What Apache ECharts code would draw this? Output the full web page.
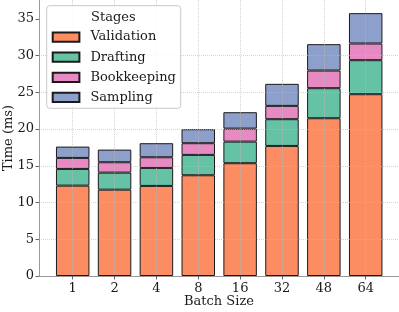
<!DOCTYPE html>
<html>
<head>
<meta charset="utf-8">
<script src="https://cdn.jsdelivr.net/npm/echarts@6/dist/echarts.min.js"></script>
<style>
html,body{margin:0;padding:0;background:#fff;}
#chart{width:399px;height:312px;}
</style>
</head>
<body>
<div id="chart"></div>
<script>
const categories = ['1', '2', '4', '8', '16', '32', '48', '64'];
const validation = [12.30, 11.75, 12.26, 13.71, 15.35, 17.70, 21.47, 24.74];
const drafting = [2.27, 2.32, 2.45, 2.77, 2.94, 3.64, 4.09, 4.63];
const bookkeeping = [1.50, 1.41, 1.45, 1.59, 1.77, 1.81, 2.40, 2.27];
const sampling = [1.54, 1.72, 1.91, 1.90, 2.23, 3.00, 3.59, 4.13];
const yTicks = [0, 5, 10, 15, 20, 25, 30, 35];
const yMax = 37.56;

const FONT = 'DejaVu Serif';
const colors = ['#fc8d62', '#66c2a5', '#e78ac3', '#8da0cb'];
const names = ['Validation', 'Drafting', 'Bookkeeping', 'Sampling'];
const seriesData = [validation, drafting, bookkeeping, sampling];

const chart = echarts.init(document.getElementById('chart'), null, {renderer: 'canvas'});
chart.setOption({
  animation: false,
  backgroundColor: '#fff',
  grid: [
    {left: 39, right: 0, top: 0, bottom: 36, containLabel: false, outerBoundsMode: 'none'},
    {left: 72.7, right: 33.3, top: 0, bottom: 36, containLabel: false, outerBoundsMode: 'none'}
  ],
  xAxis: [
    {
      gridIndex: 0, type: 'value', min: 0, max: 1,
      axisLine: {show: true, lineStyle: {color: '#999', width: 1}},
      axisTick: {show: false}, axisLabel: {show: false}, splitLine: {show: false},
      name: 'Batch Size', nameLocation: 'middle', nameGap: 19, nameMoveOverlap: false,
      nameTextStyle: {fontFamily: FONT, fontSize: 13, color: '#1a1a1a'}
    },
    {
      gridIndex: 1, type: 'category', data: categories, boundaryGap: false, z: 3,
      axisLine: {show: false},
      axisTick: {show: true, length: 3.5, interval: 0, lineStyle: {color: '#666'}},
      axisLabel: {fontFamily: FONT, fontSize: 13, color: '#1a1a1a', margin: 6, interval: 0},
      splitLine: {show: true, interval: 0, lineStyle: {color: 'rgba(185,185,185,0.6)', type: 'dotted', width: 1}}
    }
  ],
  yAxis: [
    {
      gridIndex: 0, type: 'value', min: 0, max: yMax, interval: 5, z: 3,
      axisLine: {show: true, lineStyle: {color: '#999', width: 1}},
      axisTick: {show: true, length: 3.5, customValues: yTicks, lineStyle: {color: '#666'}},
      axisLabel: {fontFamily: FONT, fontSize: 13, color: '#1a1a1a', margin: 5, customValues: yTicks},
      splitLine: {show: true, showMaxLine: false, showMinLine: false, lineStyle: {color: 'rgba(185,185,185,0.6)', type: 'dotted', width: 1}},
      name: 'Time (ms)', nameLocation: 'middle', nameGap: 24, nameRotate: 90, nameMoveOverlap: false,
      nameTextStyle: {fontFamily: FONT, fontSize: 13, color: '#1a1a1a'}
    },
    {
      gridIndex: 1, type: 'value', min: 0, max: yMax, show: false
    }
  ],
  legend: {
    orient: 'vertical', left: 51.7, top: 30.6, z: 20, padding: 0,
    itemWidth: 26.7, itemHeight: 9.3, itemGap: 7.1, icon: 'rect',
    data: names,
    textStyle: {fontFamily: FONT, fontSize: 13, lineHeight: 13, color: '#1a1a1a', padding: [0, 0, 0, 6]}
  },
  graphic: [
    {
      type: 'rect', z: 10, silent: true,
      shape: {x: 46.7, y: 5.7, width: 134, height: 102.6, r: 3},
      style: {fill: 'rgba(255,255,255,0.85)', stroke: '#c8c8c8', lineWidth: 1}
    },
    {
      type: 'text', z: 11, silent: true, x: 113.3, y: 17.5,
      style: {text: 'Stages', font: '13px "DejaVu Serif"', fill: '#1a1a1a', align: 'center', verticalAlign: 'middle'}
    }
  ],
  series: seriesData.map((d, i) => ({
    type: 'bar', name: names[i], stack: 'total', data: d,
    xAxisIndex: 1, yAxisIndex: 1, barWidth: '80%', clip: false,
    itemStyle: {color: colors[i], borderColor: '#1a1a1a', borderWidth: 1}
  }))
});
</script>
</body>
</html>
